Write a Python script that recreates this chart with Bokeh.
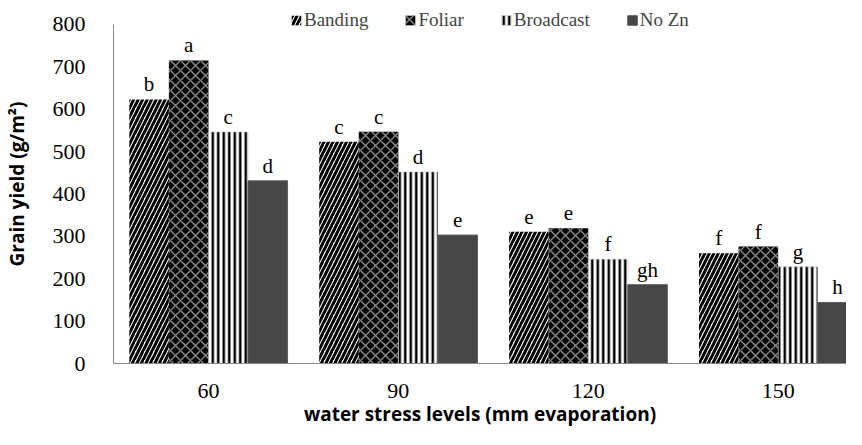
from bokeh.plotting import figure
from bokeh.models import Range1d, FixedTicker, Legend, LegendItem, ColumnDataSource
from bokeh.transform import dodge
from bokeh.embed import file_html
from bokeh.resources import INLINE
from bokeh.core.properties import value

categories = ["60", "90", "120", "150"]
series_names = ["Banding", "Foliar", "Broadcast", "No Zn"]
banding = [623, 523, 311, 260]
foliar = [715, 547, 319, 276]
broadcast = [546, 452, 246, 228]
no_zn = [431, 303, 186, 144]
banding_letters = ["b", "c", "e", "f"]
foliar_letters = ["a", "c", "e", "f"]
broadcast_letters = ["c", "d", "f", "g"]
nozn_letters = ["d", "e", "gh", "h"]
y_ticks = [0, 100, 200, 300, 400, 500, 600, 700, 800]

xs = [i + 0.5 for i in range(len(categories))]
src = ColumnDataSource(dict(
    x=xs, cat=categories,
    banding=banding, foliar=foliar, broadcast=broadcast, no_zn=no_zn,
    l_banding=banding_letters, l_foliar=foliar_letters,
    l_broadcast=broadcast_letters, l_no_zn=nozn_letters,
))

W, H = 846, 429
p = figure(width=W, height=H, output_backend="svg", toolbar_location=None,
           x_range=Range1d(0, 3.86), y_range=Range1d(0, 847),
           min_border_left=105, min_border_right=0, min_border_top=4,
           min_border_bottom=60)
p.outline_line_color = None
p.xgrid.grid_line_color = None
p.ygrid.grid_line_color = None
p.background_fill_color = "white"

bw = 0.2083
offsets = [-1.5 * bw, -0.5 * bw, 0.5 * bw, 1.5 * bw]
cols = ["banding", "foliar", "broadcast", "no_zn"]
styles = [
    dict(fill_color="white", hatch_pattern="right_diagonal_line", hatch_color="black",
         hatch_scale=9, hatch_weight=3, line_color=None),
    dict(fill_color="black", hatch_pattern="diagonal_cross", hatch_color="#8c8c8c",
         hatch_scale=10, hatch_weight=1.4, line_color=None),
    dict(fill_color="white", hatch_pattern="vertical_line", hatch_color="black",
         hatch_scale=5.5, hatch_weight=2.5, line_color="#bbbbbb", line_width=0.5),
    dict(fill_color="#474747", line_color="#5c5c5c", line_width=1),
]
renderers = []
for col, off, st in zip(cols, offsets, styles):
    r = p.vbar(x=dodge("x", off), top=col, width=bw, bottom=0, source=src, **st)
    renderers.append(r)
    p.text(x=dodge("x", off), y=col, text="l_" + col, source=src,
           text_align="center", text_baseline="alphabetic", y_offset=-15,
           text_font=value("Liberation Serif"), text_font_size="21px", text_color="black")

legend = Legend(items=[LegendItem(label=n, renderers=[r]) for n, r in zip(series_names, renderers)],
                orientation="horizontal", location=(177, 332),
                label_text_font="Liberation Serif", label_text_font_size="19px",
                glyph_width=12, glyph_height=12, label_standoff=2, spacing=36,
                padding=0, margin=0, border_line_color=None, background_fill_alpha=0)
p.add_layout(legend, "center")

p.yaxis.ticker = FixedTicker(ticks=y_ticks)
p.yaxis.bounds = (0, 800)
p.yaxis.major_tick_line_color = None
p.yaxis.minor_tick_line_color = None
p.yaxis.axis_line_color = "#868686"
p.yaxis.major_label_text_font = "Liberation Serif"
p.yaxis.major_label_text_font_size = "22px"
p.yaxis.major_label_text_color = "black"
p.yaxis.major_label_standoff = 22
p.yaxis.axis_label = "Grain yield (g/m²)"
p.yaxis.axis_label_text_font = "Open Sans"
p.yaxis.axis_label_text_font_style = "bold"
p.yaxis.axis_label_text_font_size = "19px"
p.yaxis.axis_label_text_color = "black"
p.yaxis.axis_label_standoff = 20

p.xaxis.ticker = FixedTicker(ticks=xs)
p.xaxis.major_label_overrides = {x: c for x, c in zip(xs, categories)}
p.xaxis.major_tick_line_color = None
p.xaxis.minor_tick_line_color = None
p.xaxis.axis_line_color = "#868686"
p.xaxis.major_label_text_font = "Liberation Serif"
p.xaxis.major_label_text_font_size = "22px"
p.xaxis.major_label_text_color = "black"
p.xaxis.major_label_standoff = 14
p.xaxis.axis_label = "water stress levels (mm evaporation)"
p.xaxis.axis_label_text_font = "Open Sans"
p.xaxis.axis_label_text_font_style = "bold"
p.xaxis.axis_label_text_font_size = "19px"
p.xaxis.axis_label_text_color = "black"
p.xaxis.axis_label_standoff = 0

open("out.html", "w").write(file_html(p, INLINE))
